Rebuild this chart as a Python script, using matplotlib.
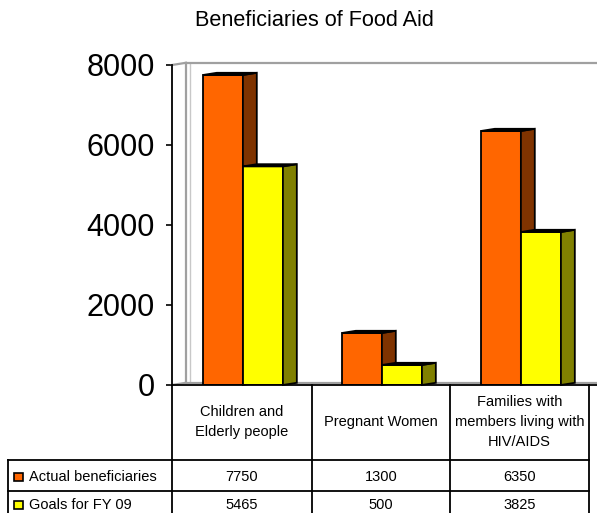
import matplotlib
matplotlib.use("Agg")
import matplotlib.pyplot as plt
from matplotlib.patches import Polygon, Rectangle
from matplotlib.lines import Line2D

plt.rcParams['font.family'] = ['Liberation Sans', 'DejaVu Sans']

# ---- data ----
title = "Beneficiaries of Food Aid"
categories = ["Children and\nElderly people", "Pregnant Women",
              "Families with\nmembers living with\nHIV/AIDS"]
series_names = ["Actual beneficiaries", "Goals for FY 09"]
actual = [7750, 1300, 6350]
goals = [5465, 500, 3825]
yticks = [0, 2000, 4000, 6000, 8000]

front_colors = ["#FF6600", "#FFFF00"]
side_colors = ["#7F3300", "#808000"]

W, H = 597, 513
fig = plt.figure(figsize=(W / 100, H / 100), dpi=100)

def fx(px):
    return px / W

def fy(py):
    return 1 - py / H

# axes: x from 172 to 589 px, y from 65 (8000) to 385 (0)
ax = fig.add_axes([fx(172), fy(385), (589 - 172) / W, (385 - 65) / H])
ax.set_xlim(-0.5, len(categories) - 0.5)
ax.set_ylim(0, 8000)
for s in ["top", "right", "bottom"]:
    ax.spines[s].set_visible(False)
ax.spines["left"].set_linewidth(1.3)
ax.spines["left"].set_color("black")
ax.set_xticks([])
ax.set_yticks(yticks)
ax.set_yticklabels([str(t) for t in yticks], fontsize=22)
ax.tick_params(axis="y", length=4.5, width=1.2, pad=8, color="black")

bw = 0.288   # bar width in category units
dx = 0.10    # depth offset x
dy = 55      # depth offset y (data units)
shift = 0.01

# back wall / floor (gray)
gray = "#A0A0A0"
ax.add_line(Line2D([-0.5 + dx, -0.5 + dx], [dy, 8000 + dy], color=gray, lw=1.6, clip_on=False))
ax.add_line(Line2D([-0.5 + dx + 0.03, -0.5 + dx + 0.03], [dy, 8000 + dy], color="#C8C8C8", lw=1.0, clip_on=False))
ax.add_line(Line2D([-0.5, -0.5 + dx], [8000, 8000 + dy], color=gray, lw=1.6, clip_on=False))
ax.add_line(Line2D([-0.5 + dx, 2.6], [8000 + dy, 8000 + dy], color=gray, lw=1.6, clip_on=False))
ax.add_line(Line2D([-0.5, -0.5 + dx], [0, dy], color=gray, lw=1.6, clip_on=False))
ax.add_line(Line2D([-0.5 + dx, 2.6], [dy, dy], color=gray, lw=1.6, clip_on=False))

# bars with pseudo-3D faces
for i in range(len(categories)):
    for k, vals in enumerate([actual, goals]):
        v = vals[i]
        x0 = i - bw + k * bw + shift
        z = 3 + k
        ax.bar(x0, v, width=bw, align="edge", color=front_colors[k],
               edgecolor="black", linewidth=1.3, zorder=z)
        side = Polygon([(x0 + bw, 0), (x0 + bw + dx, dy), (x0 + bw + dx, v + dy), (x0 + bw, v)],
                       closed=True, facecolor=side_colors[k], edgecolor="black",
                       linewidth=1.3, zorder=z, clip_on=False)
        top = Polygon([(x0, v), (x0 + dx, v + dy), (x0 + bw + dx, v + dy), (x0 + bw, v)],
                      closed=True, facecolor="black", edgecolor="black",
                      linewidth=1.3, zorder=z, clip_on=False)
        ax.add_patch(side)
        ax.add_patch(top)

# baseline
ax.add_line(Line2D([-0.5, 2.6], [0, 0], color="black", lw=1.3, clip_on=False, zorder=10))

# title
fig.text(fx(314), fy(20), title, ha="center", va="center", fontsize=15.6)

# ---- data table ----
col_x = [172, 312, 450, 589]
tbl_left = 8

def hline(x1, x2, y):
    fig.add_artist(Line2D([fx(x1), fx(x2)], [fy(y), fy(y)], color="black", lw=1.3))

def vline(x, y1, y2):
    fig.add_artist(Line2D([fx(x), fx(x)], [fy(y1), fy(y2)], color="black", lw=1.3))

for x in col_x:
    vline(x, 385, 522)
vline(tbl_left, 460, 522)
hline(tbl_left, col_x[-1], 460)
hline(tbl_left, col_x[-1], 491)

for i, cat in enumerate(categories):
    cx = (col_x[i] + col_x[i + 1]) / 2
    fig.text(fx(cx), fy(422), cat, ha="center", va="center", fontsize=10.5,
             linespacing=1.55)

row_centers = [477, 505]
for r, (name, vals) in enumerate(zip(series_names, [actual, goals])):
    cy = row_centers[r]
    fig.add_artist(Rectangle((fx(14), fy(cy + 4)), 9 / W, 8 / H,
                             facecolor=front_colors[r], edgecolor="black",
                             linewidth=1.2))
    fig.text(fx(29), fy(cy), name, ha="left", va="center", fontsize=10.5)
    for i, v in enumerate(vals):
        cx = (col_x[i] + col_x[i + 1]) / 2
        fig.text(fx(cx), fy(cy), str(v), ha="center", va="center", fontsize=10.5)

fig.savefig("out.png", dpi=100)
